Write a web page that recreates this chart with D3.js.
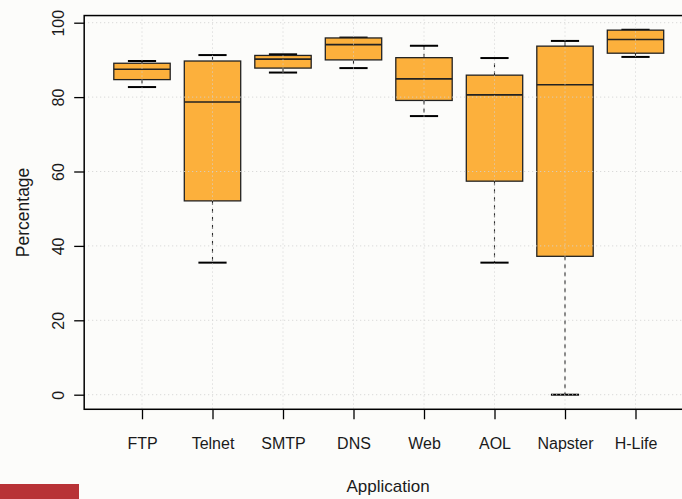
<!DOCTYPE html>
<html>
<head>
<meta charset="utf-8">
<script src="https://cdn.jsdelivr.net/npm/d3@7"></script>
<style>
  html, body { margin: 0; padding: 0; background: #fcfcfa; }
  svg { display: block; }
  text { font-family: "Liberation Sans", Arial, Helvetica, sans-serif; fill: #1a1a1a; }
</style>
</head>
<body>
<svg id="chart" width="682" height="499"></svg>
<script>
// Per-application success percentages (five-number summaries)
const categories  = ["FTP", "Telnet", "SMTP", "DNS", "Web", "AOL", "Napster", "H-Life"];
const whiskerLow  = [82.7, 35.5, 86.6, 87.8, 74.9, 35.5, 0.0, 90.8];
const lowerQuart  = [84.7, 52.1, 87.8, 90.0, 79.1, 57.4, 37.2, 91.8];
const medians     = [87.5, 78.7, 90.2, 94.1, 84.9, 80.6, 83.3, 95.5];
const upperQuart  = [89.1, 89.7, 91.2, 95.9, 90.6, 85.9, 93.7, 98.0];
const whiskerHigh = [89.7, 91.3, 91.5, 96.0, 93.8, 90.5, 95.1, 98.1];
const yTicks      = [0, 20, 40, 60, 80, 100];

const boxes = categories.map((c, i) => ({
  name: c, lo: whiskerLow[i], q1: lowerQuart[i], med: medians[i],
  q3: upperQuart[i], hi: whiskerHigh[i]
}));

const svg = d3.select("#chart");

const x = d3.scalePoint().domain(categories).range([142, 635.5]);
const step = x.step();
const y = d3.scaleLinear().domain([0, 100]).range([394.7, 22.7]);

const plotLeft = x(categories[0]) - 0.82 * step;
const plotRight = x(categories[categories.length - 1]) + 0.82 * step;
const plotTop = y(101.92);
const plotBottom = y(-3.92);

const boxW = step * 0.8;
const capW = boxW / 2;
const fill = "#fcb03c";

// Boxes and whiskers
const g = svg.append("g");
boxes.forEach(d => {
  const cx = x(d.name);
  // dashed whiskers
  g.append("line").attr("x1", cx).attr("x2", cx)
    .attr("y1", y(d.q3)).attr("y2", y(d.hi))
    .attr("stroke", "#2a2a2a").attr("stroke-width", 1.1).attr("stroke-dasharray", "4,4");
  g.append("line").attr("x1", cx).attr("x2", cx)
    .attr("y1", y(d.q1)).attr("y2", y(d.lo))
    .attr("stroke", "#2a2a2a").attr("stroke-width", 1.1).attr("stroke-dasharray", "4,4");
  // whisker caps
  [d.lo, d.hi].forEach(v => {
    g.append("line").attr("x1", cx - capW / 2).attr("x2", cx + capW / 2)
      .attr("y1", y(v)).attr("y2", y(v))
      .attr("stroke", "#000").attr("stroke-width", 2);
  });
  // box
  g.append("rect")
    .attr("x", cx - boxW / 2).attr("width", boxW)
    .attr("y", y(d.q3)).attr("height", y(d.q1) - y(d.q3))
    .attr("fill", fill).attr("stroke", "#222").attr("stroke-width", 1.3);
  // median
  g.append("line").attr("x1", cx - boxW / 2).attr("x2", cx + boxW / 2)
    .attr("y1", y(d.med)).attr("y2", y(d.med))
    .attr("stroke", "#222").attr("stroke-width", 1.6);
});

// Dotted grid drawn on top of the boxes
const grid = svg.append("g").attr("stroke", "#d2d2d2").attr("stroke-width", 1)
  .attr("stroke-dasharray", "1,3");
yTicks.forEach(t => {
  grid.append("line").attr("x1", plotLeft).attr("x2", plotRight)
    .attr("y1", y(t)).attr("y2", y(t));
});
categories.forEach(c => {
  grid.append("line").attr("x1", x(c)).attr("x2", x(c))
    .attr("y1", plotTop).attr("y2", plotBottom);
});

// Plot frame
svg.append("rect")
  .attr("x", plotLeft).attr("y", plotTop)
  .attr("width", plotRight - plotLeft).attr("height", plotBottom - plotTop)
  .attr("fill", "none").attr("stroke", "#000").attr("stroke-width", 1.5);

// Y axis
const yAxis = d3.axisLeft(y).tickValues(yTicks).tickSize(10).tickPadding(8);
const ya = svg.append("g").attr("transform", `translate(${plotLeft},0)`).call(yAxis);
ya.select(".domain").remove();
ya.selectAll(".tick line").attr("stroke", "#000").attr("stroke-width", 1.3);
ya.selectAll(".tick text")
  .attr("font-size", 16).attr("fill", "#1a1a1a")
  .attr("text-anchor", "middle")
  .attr("x", 0).attr("dy", 0)
  .attr("transform", "translate(-20,0) rotate(-90)");

// X axis
const xAxis = d3.axisBottom(x).tickSize(10).tickPadding(18);
const xa = svg.append("g").attr("transform", `translate(0,${plotBottom})`).call(xAxis);
xa.select(".domain").remove();
xa.selectAll(".tick line").attr("stroke", "#000").attr("stroke-width", 1.3);
xa.selectAll(".tick text").attr("font-size", 16).attr("fill", "#1a1a1a");

// Axis titles
svg.append("text")
  .attr("x", (plotLeft + 682) / 2 + 5).attr("y", 492)
  .attr("text-anchor", "middle").attr("font-size", 17)
  .text("Application");
svg.append("text")
  .attr("transform", `translate(29,${(plotTop + plotBottom) / 2}) rotate(-90)`)
  .attr("text-anchor", "middle").attr("font-size", 17.5)
  .text("Percentage");

// Accent bar in the lower-left corner
svg.append("rect").attr("x", 0).attr("y", 484).attr("width", 79).attr("height", 15)
  .attr("fill", "#b83236");
</script>
</body>
</html>
